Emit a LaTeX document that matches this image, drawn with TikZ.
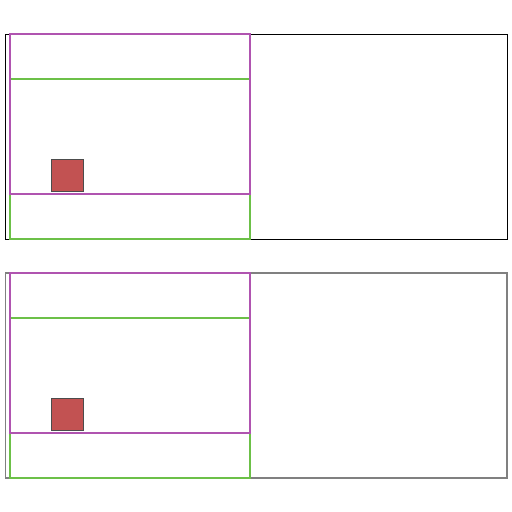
\documentclass[tikz,border=0pt]{standalone}
\usepackage{tikz}
\definecolor{framepurple}{RGB}{176,84,176}
\definecolor{framegreen}{RGB}{108,192,72}
\definecolor{blockred}{RGB}{194,82,82}
\tikzset{
  outer/.style={line width=1pt},
  inner/.style={line width=1.6pt},
  block/.style={fill=blockred, draw=black!70, line width=0.9pt}
}
\begin{document}
\begin{tikzpicture}[x=1pt, y=-1pt]
  \useasboundingbox (0,0) rectangle (512,512);
  \foreach \dy/\col/\lw in {0/black/1pt, 239/black!50/1.6pt} {
    \begin{scope}[yshift=-\dy pt]
      \draw[outer, \col, line width=\lw] (5.5,34) rectangle (507,239);
      \draw[inner, framegreen] (10,79) rectangle (250,239);
      \draw[block] (51,159) rectangle (83,191);
      \draw[inner, framepurple] (10,34) rectangle (250,194);
    \end{scope}
  }
\end{tikzpicture}
\end{document}
